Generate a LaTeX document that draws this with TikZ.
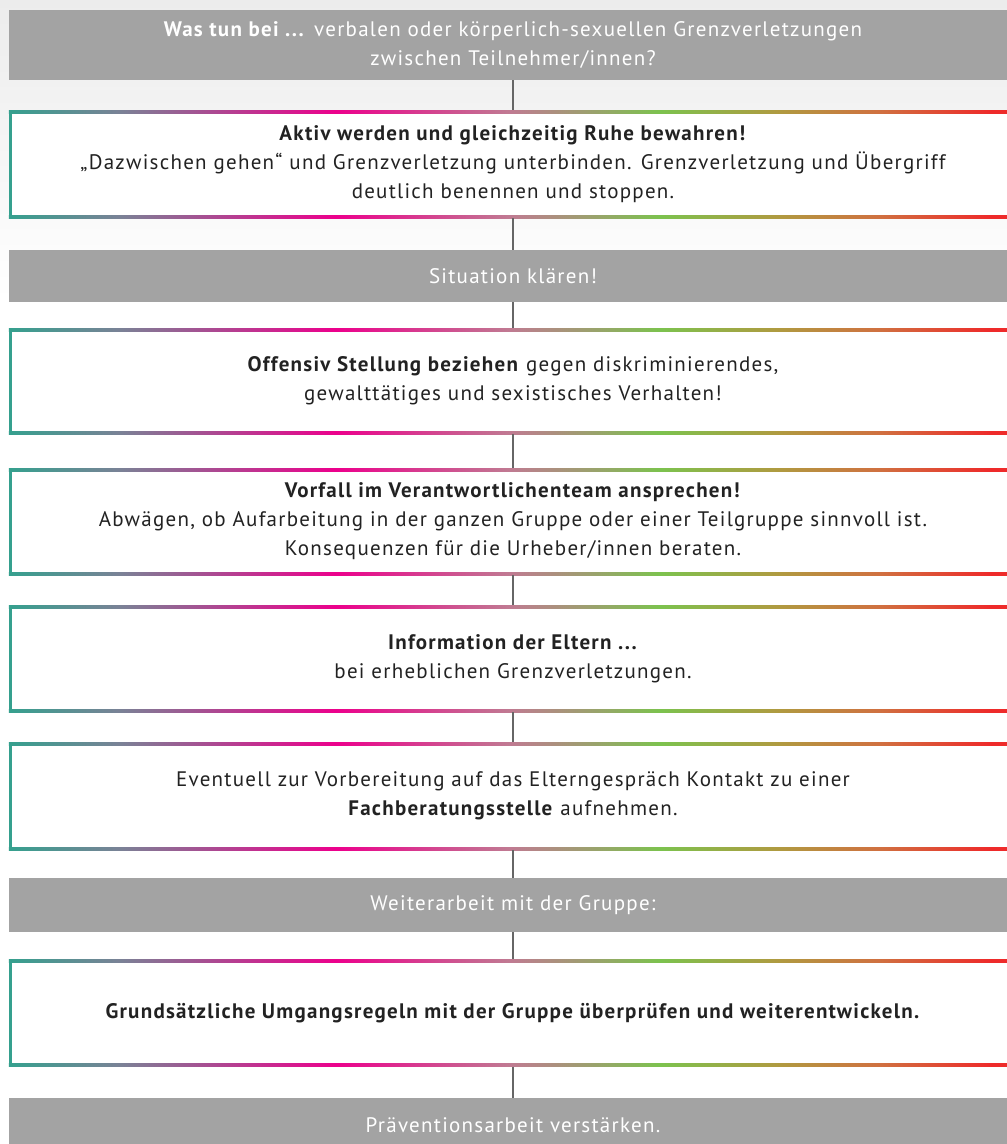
\documentclass[tikz,border=0pt]{standalone}
\usepackage{fontspec}
\setmainfont{PT Sans}[LetterSpace=6]
\usetikzlibrary{calc}
\definecolor{barg}{HTML}{A3A3A3}
\definecolor{cteal}{HTML}{35A08E}
\definecolor{cslate}{HTML}{7A8296}
\definecolor{cmag}{HTML}{EC008C}
\definecolor{cmauve}{HTML}{C07A92}
\definecolor{cgreen}{HTML}{7CC24E}
\definecolor{colive}{HTML}{B09A40}
\definecolor{corange}{HTML}{D07040}
\definecolor{cred}{HTML}{EE2A2A}
\definecolor{txt}{HTML}{222222}
\definecolor{conn}{HTML}{666666}
\definecolor{bgtop}{HTML}{ECECEC}
\pgfdeclarehorizontalshading{rainbow}{100bp}{color(0bp)=(cteal); color(25bp)=(cteal); color(30.5bp)=(cslate); color(41.2bp)=(cmag); color(49.8bp)=(cmauve); color(57.3bp)=(cgreen); color(63.2bp)=(colive); color(68.2bp)=(corange); color(73.7bp)=(cred); color(100bp)=(cred)}
\tikzset{
  txtfont/.style={font=\fontsize{21bp}{29bp}\selectfont},
  bar/.style={fill=barg, minimum width=1008bp, text=white, align=center, inner sep=0pt, txtfont},
  stepbox/.style={fill=white, minimum width=1008bp, minimum height=107bp, text=txt, align=center, inner sep=0pt, txtfont,
    path picture={
      \fill[cteal] (path picture bounding box.north west) rectangle ([xshift=3bp]path picture bounding box.south west);
      \shade[shading=rainbow] (path picture bounding box.north west) rectangle ([yshift=-3bp]path picture bounding box.north east);
      \shade[shading=rainbow] ([yshift=3bp]path picture bounding box.south west) rectangle (path picture bounding box.south east);
    }},
  link/.style={draw=conn, line width=2.5bp}
}
\begin{document}
\begin{tikzpicture}[x=1bp,y=-1bp]
\useasboundingbox (0,0) rectangle (1007,1144);
\fill[white] (0,0) rectangle (1007,1144);
\shade[top color=bgtop, bottom color=white] (0,0) rectangle (1007,300);

\node[bar, minimum height=70bp] (t0) at (513,45) {\textbf{Was tun bei ...} verbalen oder körperlich-sexuellen Grenzverletzungen\\zwischen Teilnehmer/innen?};
\node[stepbox, minimum height=108bp] (b1) at (513,164) {\textbf{Aktiv werden und gleichzeitig Ruhe bewahren!}\\„Dazwischen gehen“ und Grenzverletzung unterbinden. Grenzverletzung und Übergriff\\deutlich benennen und stoppen.};
\node[bar, minimum height=52bp] (t1) at (513,276) {Situation klären!};
\node[stepbox, minimum height=106bp] (b2) at (513,381) {\textbf{Offensiv Stellung beziehen} gegen diskriminierendes,\\gewalttätiges und sexistisches Verhalten!};
\node[stepbox, minimum height=107bp] (b3) at (513,521.5) {\textbf{Vorfall im Verantwortlichenteam ansprechen!}\\Abwägen, ob Aufarbeitung in der ganzen Gruppe oder einer Teilgruppe sinnvoll ist.\\Konsequenzen für die Urheber/innen beraten.};
\node[stepbox, minimum height=107bp] (b4) at (513,658.5) {\textbf{Information der Eltern ...}\\bei erheblichen Grenzverletzungen.};
\node[stepbox, minimum height=108bp] (b5) at (513,796) {Eventuell zur Vorbereitung auf das Elterngespräch Kontakt zu einer\\\textbf{Fachberatungsstelle} aufnehmen.};
\node[bar, minimum height=54bp] (t2) at (513,905) {Weiterarbeit mit der Gruppe:};
\node[stepbox, minimum height=107bp] (b6) at (513,1013) {\textbf{Grundsätzliche Umgangsregeln mit der Gruppe überprüfen und weiterentwickeln.}};
\node[bar, minimum height=54bp] (t3) at (513,1125) {Präventionsarbeit verstärken.};

\draw[link] (t0.south) -- (b1.north);
\draw[link] (b1.south) -- (t1.north);
\draw[link] (t1.south) -- (b2.north);
\draw[link] (b2.south) -- (b3.north);
\draw[link] (b3.south) -- (b4.north);
\draw[link] (b4.south) -- (b5.north);
\draw[link] (b5.south) -- (t2.north);
\draw[link] (t2.south) -- (b6.north);
\draw[link] (b6.south) -- (t3.north);
\end{tikzpicture}
\end{document}
